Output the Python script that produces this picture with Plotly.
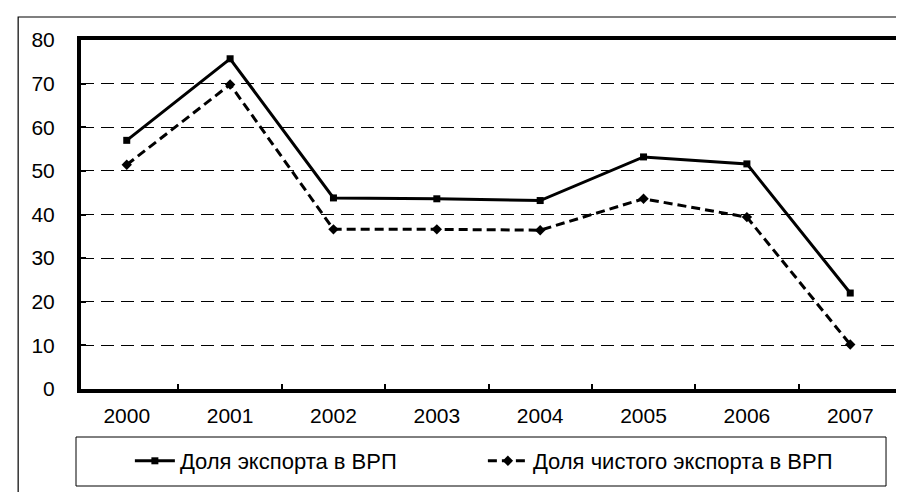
import plotly.graph_objects as go

years = ["2000", "2001", "2002", "2003", "2004", "2005", "2006", "2007"]
export_share = [57.0, 75.7, 43.8, 43.6, 43.2, 53.2, 51.6, 22.0]
net_export_share = [51.4, 69.8, 36.6, 36.6, 36.4, 43.6, 39.4, 10.2]
name_export = "Доля экспорта в ВРП"
name_net = "Доля чистого экспорта в ВРП"

W, H = 904, 492
L, R, T, B = 73, 14, 32, 111
pw, ph = W - L - R, H - T - B

def px_x(p):
    return (p - L) / pw

def px_y(p):
    return (H - B - p) / ph

fig = go.Figure()
fig.add_trace(go.Scatter(
    x=years, y=export_share, name=name_export, mode="lines+markers",
    line=dict(color="black", width=3),
    marker=dict(symbol="square", size=7, color="black"),
))
fig.add_trace(go.Scatter(
    x=years, y=net_export_share, name=name_net, mode="lines+markers",
    line=dict(color="black", width=3, dash="9px,5px"),
    marker=dict(symbol="diamond", size=8, color="black"),
))

font = "Arial, Liberation Sans, sans-serif"

fig.update_layout(
    width=W, height=H,
    margin=dict(l=L, r=R, t=T, b=B),
    paper_bgcolor="white", plot_bgcolor="white",
    font=dict(family=font, size=21, color="black"),
    showlegend=True,
    legend=dict(
        orientation="h", x=px_x(122), xanchor="left",
        y=px_y(453), yanchor="middle",
        font=dict(size=22, family=font),
        bgcolor="rgba(0,0,0,0)", borderwidth=0,
        entrywidth=298, itemwidth=40,
    ),
    xaxis=dict(
        type="category", showline=True, linecolor="black", linewidth=4,
        mirror=True, ticks="inside", ticklen=5, tickwidth=2,
        tickcolor="black", tickson="boundaries", showgrid=False,
        ticklabelstandoff=5, tickfont=dict(size=21),
    ),
    yaxis=dict(
        range=[0, 80], dtick=10, showline=True, linecolor="black",
        linewidth=4, mirror=True, ticks="inside", ticklen=5, tickwidth=2,
        tickcolor="black", showgrid=True, gridcolor="black", gridwidth=1.4,
        griddash="13px,7px", zeroline=False, ticklabelstandoff=18,
        tickfont=dict(size=21),
    ),
    shapes=[
        dict(type="rect", xref="paper", yref="paper",
             x0=px_x(10), x1=px_x(912), y0=px_y(500), y1=px_y(9),
             line=dict(color="black", width=1.2), fillcolor="rgba(0,0,0,0)",
             layer="below"),
        dict(type="rect", xref="paper", yref="paper",
             x0=px_x(68), x1=px_x(880), y0=px_y(478), y1=px_y(429),
             line=dict(color="black", width=1), fillcolor="rgba(0,0,0,0)"),
    ],
)

fig.write_html("out.html")
